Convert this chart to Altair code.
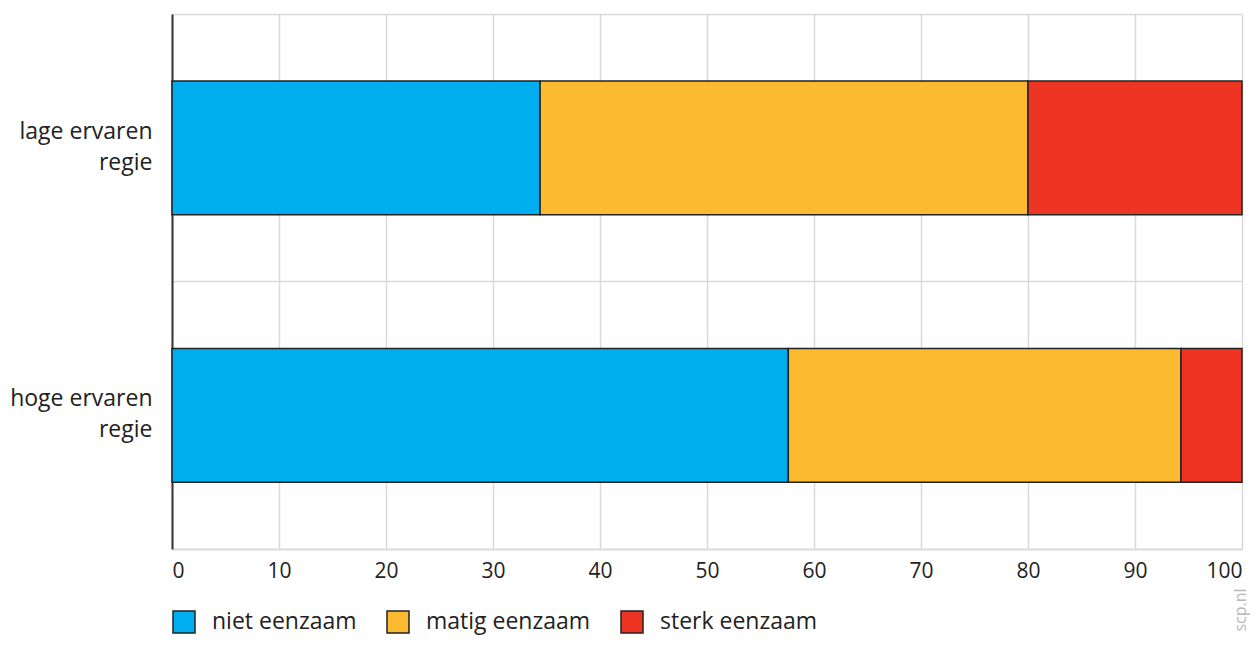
import altair as alt
import pandas as pd

groups = ["lage ervaren|regie", "hoge ervaren|regie"]
series = ["niet eenzaam", "matig eenzaam", "sterk eenzaam"]
niet = [34.4, 57.6]
matig = [45.6, 36.7]
sterk = [20.0, 5.7]
colors = ["#00AEEF", "#FBBA30", "#EE3524"]

rows = []
for gi, g in enumerate(groups):
    for si, (s, vals) in enumerate(zip(series, [niet, matig, sterk])):
        rows.append({"groep": g, "reeks": s, "waarde": vals[gi], "volg": si})
df = pd.DataFrame(rows)

FONT = "Open Sans"

bars = alt.Chart(df).mark_bar(stroke="#222222", strokeWidth=1.5,
                              height={"band": 0.5}).encode(
    x=alt.X("waarde:Q", stack="zero",
            scale=alt.Scale(domain=[0, 100], nice=False),
            axis=alt.Axis(values=list(range(0, 101, 10)), title=None, grid=True,
                          gridColor="#d9d9d9", gridWidth=1.5, domainColor="#d9d9d9",
                          domainWidth=2, ticks=False, labelPadding=11,
                          labelFontSize=21, labelColor="#222222", labelFont=FONT)),
    y=alt.Y("groep:N", sort=groups,
            scale=alt.Scale(paddingInner=0, paddingOuter=0),
            axis=alt.Axis(title=None, ticks=False, grid=True, bandPosition=0,
                          gridColor="#d9d9d9", gridWidth=1.5,
                          domainColor="#333333", domainWidth=2,
                          labelExpr="split(datum.label, '|')",
                          labelFontSize=23, labelLineHeight=31, labelPadding=20,
                          labelOffset=-16,
                          labelColor="#222222", labelFont=FONT, labelLimit=300)),
    color=alt.Color("reeks:N", sort=series,
                    scale=alt.Scale(domain=series, range=colors),
                    legend=alt.Legend(title=None, orient="none", legendX=0, legendY=596,
                                      direction="horizontal", columns=3,
                                      symbolType="square", symbolSize=484,
                                      symbolStrokeColor="#222222", symbolStrokeWidth=1.5,
                                      labelFontSize=23, labelFont=FONT, labelColor="#222222",
                                      labelOffset=16, columnPadding=27, labelLimit=400,
                                      symbolOpacity=1)),
    order=alt.Order("volg:Q"),
)

credit = alt.Chart(pd.DataFrame({"t": ["scp.nl"]})).mark_text(
    angle=270, fontSize=16, font=FONT, color="#b8b8b8", align="center", baseline="middle"
).encode(text="t:N", x=alt.value(1069), y=alt.value(596))

chart = alt.layer(bars, credit).properties(
    width=1070, height=535,
    autosize=alt.AutoSizeParams(type="none"),
    padding={"left": 164, "top": 6, "right": 8, "bottom": 89},
).configure_view(stroke=None)

chart.save("out.html", embed_options={"renderer": "svg", "actions": False})
